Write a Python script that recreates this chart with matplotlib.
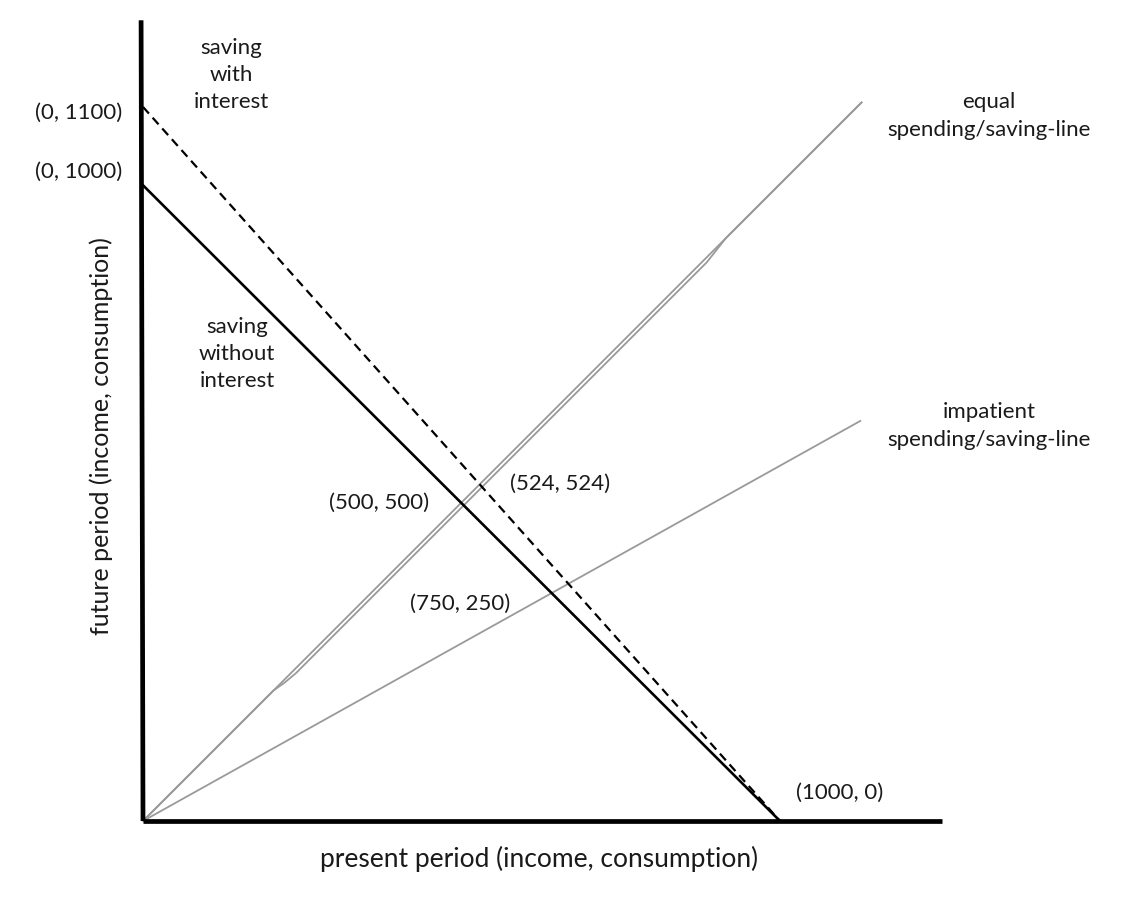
import matplotlib
matplotlib.use('Agg')
import matplotlib.pyplot as plt

# pixel scale of the drawing: about 0.637 px per unit, origin at (143, 822)
px = 0.637
W, H = 1122, 904
ox, oy = 143, 822

# budget lines (present, future)
budget_x = [0, 1000]
budget_y = [998, 0]
interest_x = [0, 1000]
interest_y = [1121, 0]

# equal spending/saving line, drawn twice (slightly off each other)
equal_x = [0, 1129]
equal_y = [0, 1129]
equal2_x = [0, 205, 222, 240, 885, 900, 915, 1129]
equal2_y = [0, 205, 217, 232, 877, 896, 915, 1129]

# impatient spending/saving line
impatient_x = [0, 1126]
impatient_y = [0, 628]

# axis strokes
yaxis_x = [0, -3]
yaxis_y = [0, 1257]
xaxis_x = [0, 1254]
xaxis_y = [0, 0]

plt.rcParams['font.family'] = ['Lato', 'DejaVu Sans']

fig = plt.figure(figsize=(W / 100, H / 100), dpi=100)
ax = fig.add_axes([0, 0, 1, 1])
ax.set_xlim(-ox / px, (W - ox) / px)
ax.set_ylim(-(H - oy) / px, oy / px)
ax.axis('off')

ax.plot(equal_x, equal_y, color='#9a9a9a', lw=1.3, solid_capstyle='butt')
ax.plot(equal2_x, equal2_y, color='#9a9a9a', lw=1.3, solid_capstyle='butt')
ax.plot(impatient_x, impatient_y, color='#9a9a9a', lw=1.3)
ax.plot(budget_x, budget_y, color='black', lw=1.9)
ax.plot(interest_x, interest_y, color='black', lw=1.6, linestyle=(0, (4, 2.5)))
ax.plot(yaxis_x, yaxis_y, color='black', lw=3.4, solid_capstyle='butt')
ax.plot(xaxis_x, xaxis_y, color='black', lw=3.4, solid_capstyle='butt')


def label(xp, yp, s, fs=16, **kw):
    # place text by pixel position of its centre
    ax.text((xp - ox) / px, (oy - yp) / px, s, ha='center', va='center',
            fontsize=fs, linespacing=1.45, color='#1a1a1a', **kw)


label(231, 75, 'saving\nwith\ninterest')
label(79, 113, '(0, 1100)')
label(79, 172, '(0, 1000)')
label(237, 354, 'saving\nwithout\ninterest')
label(379, 503, '(500, 500)')
label(560, 484, '(524, 524)')
label(460, 604, '(750, 250)')
label(840, 793, '(1000, 0)')
label(989, 116, 'equal\nspending/saving-line')
label(989, 426, 'impatient\nspending/saving-line')
label(101, 436, 'future period (income, consumption)', fs=18, rotation=90)
label(539, 859, 'present period (income, consumption)', fs=19)

fig.savefig('out.png', dpi=100)
